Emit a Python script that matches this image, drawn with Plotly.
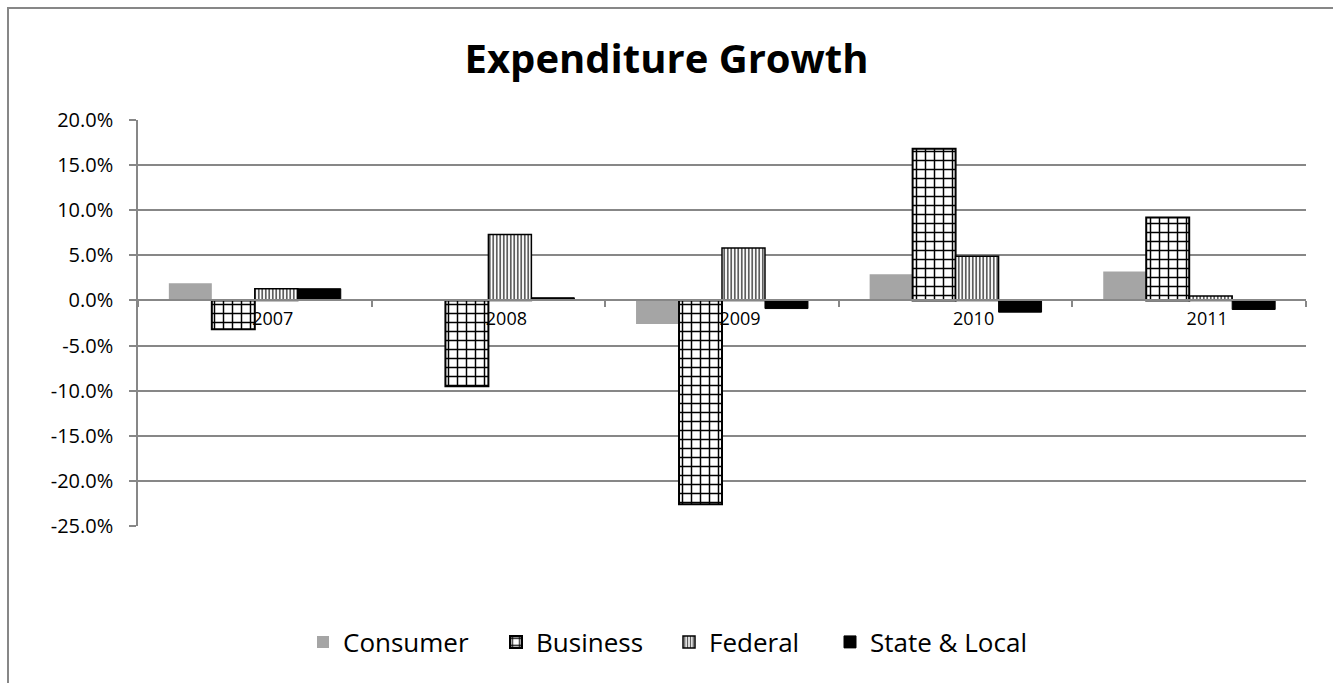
import plotly.graph_objects as go

# Annual growth in expenditure by sector, percent
years = ["2007", "2008", "2009", "2010", "2011"]
consumer = [1.9, 0.0, -2.6, 2.9, 3.2]
business = [-3.2, -9.5, -22.6, 16.8, 9.2]
federal = [1.3, 7.3, 5.8, 4.9, 0.5]
state_local = [1.3, 0.3, -0.9, -1.3, -1.0]

y_ticks = [20, 15, 10, 5, 0, -5, -10, -15, -20, -25]
y_tick_text = ["20.0%", "15.0%", "10.0%", "5.0%", "0.0%",
               "-5.0%", "-10.0%", "-15.0%", "-20.0%", "-25.0%"]

FONT = "Open Sans"
GRID = "#878787"

# plot area in pixels
L, R, T, B = 138, 1306, 120, 526
PW, PH = R - L, B - T

def px_x(x):
    return (x - L) / PW

def px_y(y):
    return (B - y) / PH

fig = go.Figure()
fig.add_trace(go.Bar(
    name="Consumer", x=years, y=consumer, legend="legend",
    showlegend=True,
    marker=dict(color="#A5A5A5", line=dict(width=0)),
))
fig.add_trace(go.Bar(
    name="Business", x=years, y=business, legend="legend2",
    showlegend=True,
    marker=dict(
        color="white",
        line=dict(color="black", width=2),
        pattern=dict(shape="+", fgcolor="black", bgcolor="white",
                     size=9, solidity=0.3, fillmode="replace"),
    ),
))
fig.add_trace(go.Bar(
    name="Federal", x=years, y=federal, legend="legend3",
    showlegend=True,
    marker=dict(
        color="white",
        line=dict(color="black", width=1.5),
        pattern=dict(shape="|", fgcolor="#4d4d4d", bgcolor="white",
                     size=3.5, solidity=0.45, fillmode="replace"),
    ),
))
fig.add_trace(go.Bar(
    name="State & Local", x=years, y=state_local, legend="legend4",
    showlegend=True,
    marker=dict(color="black", line=dict(color="black", width=1)),
))

y_min, y_max = -25, 20
zero_pos = (0 - y_min) / (y_max - y_min)

legend_font = dict(family=FONT, size=26, color="black")
legend_y = px_y(642)
# one legend box per series, spread along the bottom
legend_left = [303, 496, 669, 830]

def legend_box(xpix):
    return dict(
        visible=True,
        orientation="h", x=px_x(xpix), xanchor="left",
        y=legend_y, yanchor="middle",
        font=legend_font, itemwidth=30, bgcolor="rgba(0,0,0,0)",
    )

fig.update_layout(
    width=1333, height=683,
    margin=dict(l=L, r=1333 - R, t=T, b=683 - B),
    paper_bgcolor="white", plot_bgcolor="white",
    showlegend=True,
    barmode="group", bargap=0.264, bargroupgap=0,
    font=dict(family=FONT, color="black", size=20),
    title=dict(
        text="<b>Expenditure Growth</b>",
        x=0.5, xanchor="center", xref="container",
        y=1 - 59 / 683, yanchor="middle", yref="container",
        font=dict(family=FONT, size=40, color="black"),
    ),
    xaxis=dict(
        type="category",
        anchor="free", position=zero_pos,
        showline=True, linecolor=GRID, linewidth=1.5,
        ticks="outside", tickson="boundaries", ticklen=6,
        tickcolor=GRID, tickwidth=1.5,
        ticklabelshift=18, ticklabelstandoff=2,
        showgrid=False, zeroline=False,
        tickfont=dict(family=FONT, size=18, color="black"),
    ),
    yaxis=dict(
        range=[y_min, y_max],
        tickvals=y_ticks, ticktext=y_tick_text,
        showline=True, linecolor=GRID, linewidth=1.5,
        ticks="outside", ticklen=7, tickcolor=GRID, tickwidth=1.5,
        ticklabelstandoff=12,
        showgrid=True, gridcolor=GRID, gridwidth=1.5,
        zeroline=False,
        tickfont=dict(family=FONT, size=20, color="black"),
    ),
    legend=legend_box(legend_left[0]),
    legend2=legend_box(legend_left[1]),
    legend3=legend_box(legend_left[2]),
    legend4=legend_box(legend_left[3]),
    shapes=[dict(
        type="rect", xref="paper", yref="paper",
        x0=px_x(8), x1=1.05,
        y0=-0.5, y1=px_y(8),
        line=dict(color=GRID, width=2),
        fillcolor="rgba(0,0,0,0)", layer="below",
    )],
)

fig.write_html("out.html")
